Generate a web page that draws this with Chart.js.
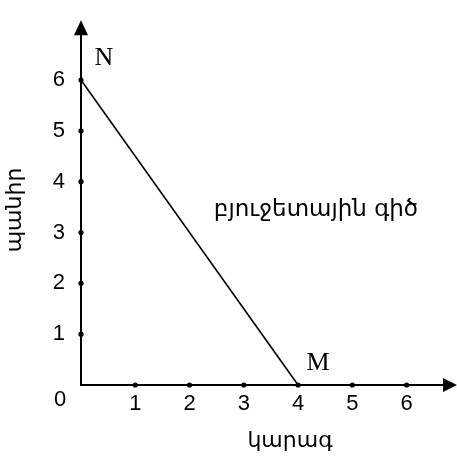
<!DOCTYPE html>
<html>
<head>
<meta charset="utf-8">
<script src="https://cdn.jsdelivr.net/npm/chart.js@4"></script>
<style>
  html, body { margin: 0; padding: 0; background: #fff; }
  #wrap { width: 457px; height: 457px; }
</style>
</head>
<body>
<div id="wrap"><canvas id="budgetChart" width="457" height="457"></canvas></div>
<script>
// axis ticks
const butterTicks = [1, 2, 3, 4, 5, 6];
const cheeseTicks = [1, 2, 3, 4, 5, 6];

// budget line end points: N on the cheese axis, M on the butter axis
const budgetButter = [0, 4];
const budgetCheese = [6, 0];
const pointNames = ['N', 'M'];

const xTitle = 'կարագ';
const yTitle = 'պանիր';
const lineName = 'բյուջետային գիծ';

const armFont = '"DejaVu Sans", sans-serif';
const numFont = '"Liberation Sans", Arial, sans-serif';

const budgetLine = budgetButter.map((b, i) => ({ x: b, y: budgetCheese[i] }));
const xDots = butterTicks.map(v => ({ x: v, y: 0 }));
const yDots = cheeseTicks.map(v => ({ x: 0, y: v }));

const annotations = {
    id: 'annotations',
    afterDraw(chart) {
        const { ctx, chartArea, scales } = chart;
        const ox = scales.x.getPixelForValue(0);
        const oy = scales.y.getPixelForValue(0);
        ctx.save();
        ctx.fillStyle = '#000';

        // arrow heads
        ctx.beginPath();
        ctx.moveTo(chartArea.right + 7, oy);
        ctx.lineTo(chartArea.right - 7, oy - 7);
        ctx.lineTo(chartArea.right - 7, oy + 7);
        ctx.closePath();
        ctx.fill();
        ctx.beginPath();
        ctx.moveTo(ox, chartArea.top - 9);
        ctx.lineTo(ox - 7, chartArea.top + 6);
        ctx.lineTo(ox + 7, chartArea.top + 6);
        ctx.closePath();
        ctx.fill();

        ctx.textAlign = 'center';
        ctx.textBaseline = 'middle';

        // origin
        ctx.font = '22px ' + numFont;
        ctx.fillText('0', ox - 21, oy + 15);

        // end point names
        ctx.font = '26px "Liberation Serif", "Times New Roman", serif';
        budgetLine.forEach((p, i) => {
            const px = scales.x.getPixelForValue(p.x);
            const py = scales.y.getPixelForValue(p.y);
            const dx = i === 0 ? 23 : 20;
            ctx.fillText(pointNames[i], px + dx, py - 22);
        });

        // line caption and axis titles
        ctx.font = '23px ' + armFont;
        ctx.fillText(lineName, 316, 210);
        ctx.font = '22px ' + armFont;
        ctx.fillText(xTitle, 290, 441);
        ctx.translate(15, 210);
        ctx.rotate(-Math.PI / 2);
        ctx.fillText(yTitle, 0, 0);
        ctx.restore();
    }
};

const ctx = document.getElementById('budgetChart').getContext('2d');
new Chart(ctx, {
    type: 'scatter',
    data: {
        datasets: [
            {
                data: budgetLine,
                showLine: true,
                borderColor: '#000',
                borderWidth: 1.6,
                pointRadius: 0,
                clip: false
            },
            {
                data: xDots,
                pointRadius: 2.6,
                pointBackgroundColor: '#000',
                pointBorderWidth: 0,
                clip: false
            },
            {
                data: yDots,
                pointRadius: 2.6,
                pointBackgroundColor: '#000',
                pointBorderWidth: 0,
                clip: false
            }
        ]
    },
    options: {
        responsive: false,
        animation: false,
        layout: { padding: { top: 16, right: 7, left: 0, bottom: 0 } },
        plugins: { legend: { display: false }, tooltip: { enabled: false } },
        scales: {
            x: {
                min: 0,
                max: 6.8,
                grid: { display: false, drawTicks: false },
                border: { display: true, color: '#000', width: 2 },
                afterFit(scale) { scale.height = 72; },
                afterBuildTicks(scale) { scale.ticks = butterTicks.map(v => ({ value: v })); },
                ticks: {
                    padding: 6,
                    color: '#000',
                    font: { family: numFont, size: 22 }
                }
            },
            y: {
                min: 0,
                max: 7,
                grid: { display: false, drawTicks: false },
                border: { display: true, color: '#000', width: 2 },
                afterFit(scale) { scale.width = 81; },
                afterBuildTicks(scale) { scale.ticks = cheeseTicks.map(v => ({ value: v })); },
                ticks: {
                    padding: 16,
                    color: '#000',
                    font: { family: numFont, size: 22 }
                }
            }
        }
    },
    plugins: [annotations]
});
</script>
</body>
</html>
